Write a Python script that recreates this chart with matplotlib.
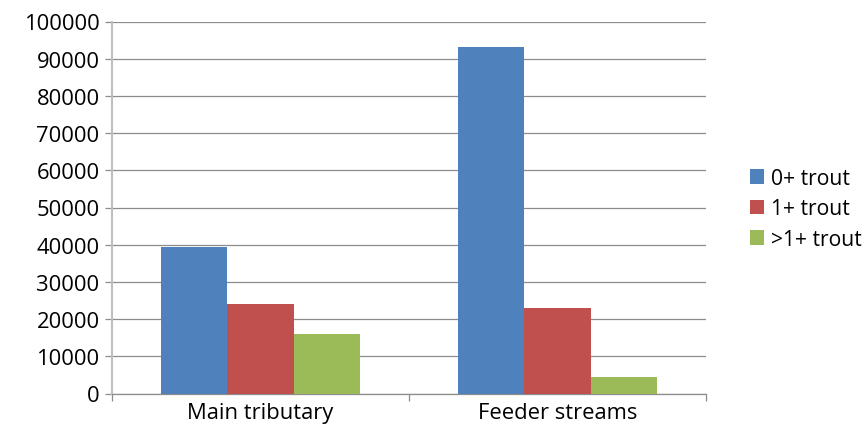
import numpy as np
import matplotlib.pyplot as plt

# data
categories = ["Main tributary", "Feeder streams"]
series_labels = ["0+ trout", "1+ trout", ">1+ trout"]
trout_0plus = [39400, 93200]
trout_1plus = [24100, 23000]
trout_over1 = [16000, 4500]

colors = ["#4F81BD", "#C0504D", "#9BBB59"]

plt.rcParams["font.family"] = ["Open Sans", "DejaVu Sans"]
fs = 15.8

fig = plt.figure(figsize=(8.64, 4.27), dpi=100)
ax = fig.add_axes([112 / 864, 1 - 394.5 / 427, (706 - 112) / 864, (394.5 - 22.5) / 427])

x = np.arange(len(categories))
bar_w = 0.224
all_series = [trout_0plus, trout_1plus, trout_over1]
for i, (vals, lab, col) in enumerate(zip(all_series, series_labels, colors)):
    ax.bar(x + (i - 1) * bar_w, vals, width=bar_w, color=col, label=lab, zorder=3)

ax.set_xlim(-0.5, 1.5)
ax.set_ylim(0, 100000)
ax.set_yticks(np.arange(0, 100001, 10000))
ax.yaxis.grid(True, color="#8c8c8c", linewidth=0.9, zorder=0)
ax.set_axisbelow(True)

ax.set_xticks(x)
ax.set_xticklabels(categories, fontsize=fs)
ax.set_xticks([-0.5, 0.5, 1.5], minor=True)
ax.tick_params(axis="x", which="major", length=0, pad=6)
ax.tick_params(axis="x", which="minor", length=5, color="#8c8c8c", width=0.9)
ax.tick_params(axis="y", length=5, color="#8c8c8c", width=0.9, pad=4, labelsize=fs)

for side in ["top", "right"]:
    ax.spines[side].set_visible(False)
ax.spines["left"].set_color("#bfbfbf")
ax.spines["left"].set_linewidth(1.5)
ax.spines["bottom"].set_color("#8c8c8c")
ax.spines["bottom"].set_linewidth(0.9)

ax.legend(loc="center left", bbox_to_anchor=(750 / 864, 1 - 210 / 427),
          bbox_transform=fig.transFigure, frameon=False, fontsize=15.2,
          borderpad=0, borderaxespad=0, handlelength=0.68, handleheight=0.68,
          handletextpad=0.3, labelspacing=0.45)

fig.savefig("out.png", dpi=100)
